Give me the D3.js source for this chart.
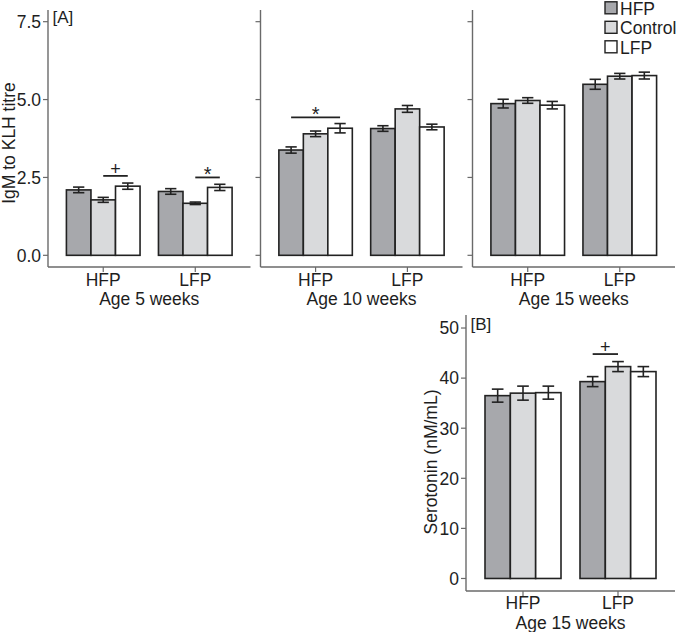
<!DOCTYPE html>
<html><head><meta charset="utf-8">
<script src="https://cdn.jsdelivr.net/npm/d3@7/dist/d3.min.js"></script>
<style>body{margin:0;background:#fff}svg{display:block}text{font-family:"Liberation Sans",Arial,sans-serif;fill:#1e1e1e}</style>
</head><body>
<svg id="c" width="676" height="632"></svg>
<script>
// ---- data ----
const ages = ["Age 5 weeks", "Age 10 weeks", "Age 15 weeks"];
const groups = ["HFP", "LFP"];
const diets = ["HFP", "Control", "LFP"];
const dietColors = ["#a7a8ac", "#d9dadc", "#ffffff"];
// IgM to KLH titre: [age][group][diet]
const igmMean = [
  [[2.10, 1.78, 2.22], [2.05, 1.67, 2.18]],
  [[3.38, 3.90, 4.08], [4.07, 4.70, 4.12]],
  [[4.87, 4.97, 4.82], [5.49, 5.75, 5.77]]
];
const igmErr = [
  [[0.09, 0.08, 0.10], [0.09, 0.04, 0.10]],
  [[0.10, 0.09, 0.15], [0.09, 0.11, 0.09]],
  [[0.14, 0.09, 0.12], [0.16, 0.09, 0.11]]
];
const igmTicks = [0, 2.5, 5.0, 7.5];
// significance: [ageIndex, group, fromDiet, toDiet, yValue, label]
const igmSig = [
  [0, "HFP", "Control", "LFP", 2.55, "+"],
  [0, "LFP", "Control", "LFP", 2.50, "*"],
  [1, "HFP", "HFP", "LFP", 4.43, "*"]
];
// Serotonin at 15 weeks: [group][diet]
const seroMean = [[36.5, 37.0, 37.1], [39.3, 42.3, 41.3]];
const seroErr = [[1.3, 1.4, 1.3], [1.0, 1.0, 1.0]];
const seroTicks = [0, 10, 20, 30, 40, 50];
const seroSig = [["LFP", "HFP", "Control", 44.8, "+"]];

// ---- drawing ----
const svg = d3.select("#c");
const axisCol = "#6a6a6a", ink = "#222";
const FS = 17.5;

function facet(g, x0, x1, y, means, errs, ticks, showLabels, tickFmt, xTitle, sig, labelBase1, labelBase2) {
  const xb = d3.scaleBand().domain(groups).range([x0, x1]).paddingInner(0.2).paddingOuter(0.2);
  const xd = d3.scaleBand().domain(diets).range([0, xb.bandwidth()]);
  const [yb, yt] = y.range();
  // axes
  g.append("line").attr("x1", x0).attr("x2", x0).attr("y1", yt).attr("y2", yb)
    .attr("stroke", axisCol).attr("stroke-width", 1.4);
  g.append("line").attr("x1", x0).attr("x2", x1).attr("y1", yb).attr("y2", yb)
    .attr("stroke", axisCol).attr("stroke-width", 1.4);
  ticks.forEach(t => {
    g.append("line").attr("x1", x0 - 5).attr("x2", x0).attr("y1", y(t)).attr("y2", y(t))
      .attr("stroke", axisCol).attr("stroke-width", 1.2);
    if (showLabels) g.append("text").attr("x", x0 - 7).attr("y", y(t)).attr("dy", "0.36em")
      .attr("text-anchor", "end").attr("font-size", FS).text(tickFmt(t));
  });
  groups.forEach((gr, gi) => {
    const cx = xb(gr) + xb.bandwidth() / 2;
    g.append("line").attr("x1", cx).attr("x2", cx).attr("y1", yb).attr("y2", yb + 5)
      .attr("stroke", axisCol).attr("stroke-width", 1.2);
    g.append("text").attr("x", cx).attr("y", labelBase1).attr("text-anchor", "middle")
      .attr("font-size", FS).text(gr);
    diets.forEach((d, di) => {
      const bx = xb(gr) + xd(d), w = xd.bandwidth();
      const v = means[gi][di], e = errs[gi][di];
      g.append("rect").attr("x", bx).attr("y", y(v)).attr("width", w).attr("height", y(0) - y(v))
        .attr("fill", dietColors[di]).attr("stroke", ink).attr("stroke-width", 1.6);
      const mx = bx + w / 2, hw = w * 0.23;
      g.append("line").attr("x1", mx).attr("x2", mx).attr("y1", y(v - e)).attr("y2", y(v + e))
        .attr("stroke", ink).attr("stroke-width", 1.6);
      [v - e, v + e].forEach(yy => g.append("line").attr("x1", mx - hw).attr("x2", mx + hw)
        .attr("y1", y(yy)).attr("y2", y(yy)).attr("stroke", ink).attr("stroke-width", 1.6));
    });
  });
  g.append("text").attr("x", (x0 + x1) / 2).attr("y", labelBase2).attr("text-anchor", "middle")
    .attr("font-size", FS).text(xTitle);
  sig.forEach(([gr, a, b, yv, lab]) => {
    const xa = xb(gr) + xd(a) + xd.bandwidth() / 2, xe = xb(gr) + xd(b) + xd.bandwidth() / 2;
    g.append("line").attr("x1", xa).attr("x2", xe).attr("y1", y(yv)).attr("y2", y(yv))
      .attr("stroke", ink).attr("stroke-width", 1.8);
    g.append("text").attr("x", (xa + xe) / 2).attr("y", y(yv) + (lab === "*" ? 4 : -1))
      .attr("text-anchor", "middle").attr("font-size", lab === "*" ? 20 : 18).text(lab);
  });
}

// Panel A
const yA = d3.scaleLinear().domain([-0.375, 7.875]).range([267, 10]);
const facetX = [[48, 250.5], [260.5, 462.5], [472.5, 675]];
ages.forEach((age, ai) => {
  const g = svg.append("g");
  const sig = igmSig.filter(s => s[0] === ai).map(s => s.slice(1));
  facet(g, facetX[ai][0], facetX[ai][1], yA, igmMean[ai], igmErr[ai], igmTicks, ai === 0,
    d3.format(".1f"), age, sig, 285.5, 305);
});
svg.append("text").attr("transform", "translate(15,143) rotate(-90)").attr("text-anchor", "middle")
  .attr("font-size", FS).text("IgM to KLH titre");
svg.append("text").attr("x", 52.5).attr("y", 23).attr("font-size", FS - 0.5).text("[A]");

// Legend
diets.forEach((d, i) => {
  svg.append("rect").attr("x", 605).attr("y", 1.8 + i * 19.5).attr("width", 12).attr("height", 12)
    .attr("fill", dietColors[i]).attr("stroke", ink).attr("stroke-width", 1.4);
  svg.append("text").attr("x", 620).attr("y", 14.5 + i * 19.5).attr("font-size", FS).text(d);
});

// Panel B
const yB = d3.scaleLinear().domain([-2.5, 52.6]).range([591, 315]);
const gB = svg.append("g");
facet(gB, 466, 675, yB, seroMean, seroErr, seroTicks, true, d3.format("d"), "Age 15 weeks", seroSig, 609, 628.5);
svg.append("text").attr("transform", "translate(437,462) rotate(-90)").attr("text-anchor", "middle")
  .attr("font-size", FS).text("Serotonin (nM/mL)");
svg.append("text").attr("x", 470.5).attr("y", 330).attr("font-size", FS - 0.5).text("[B]");
</script>
</body></html>
